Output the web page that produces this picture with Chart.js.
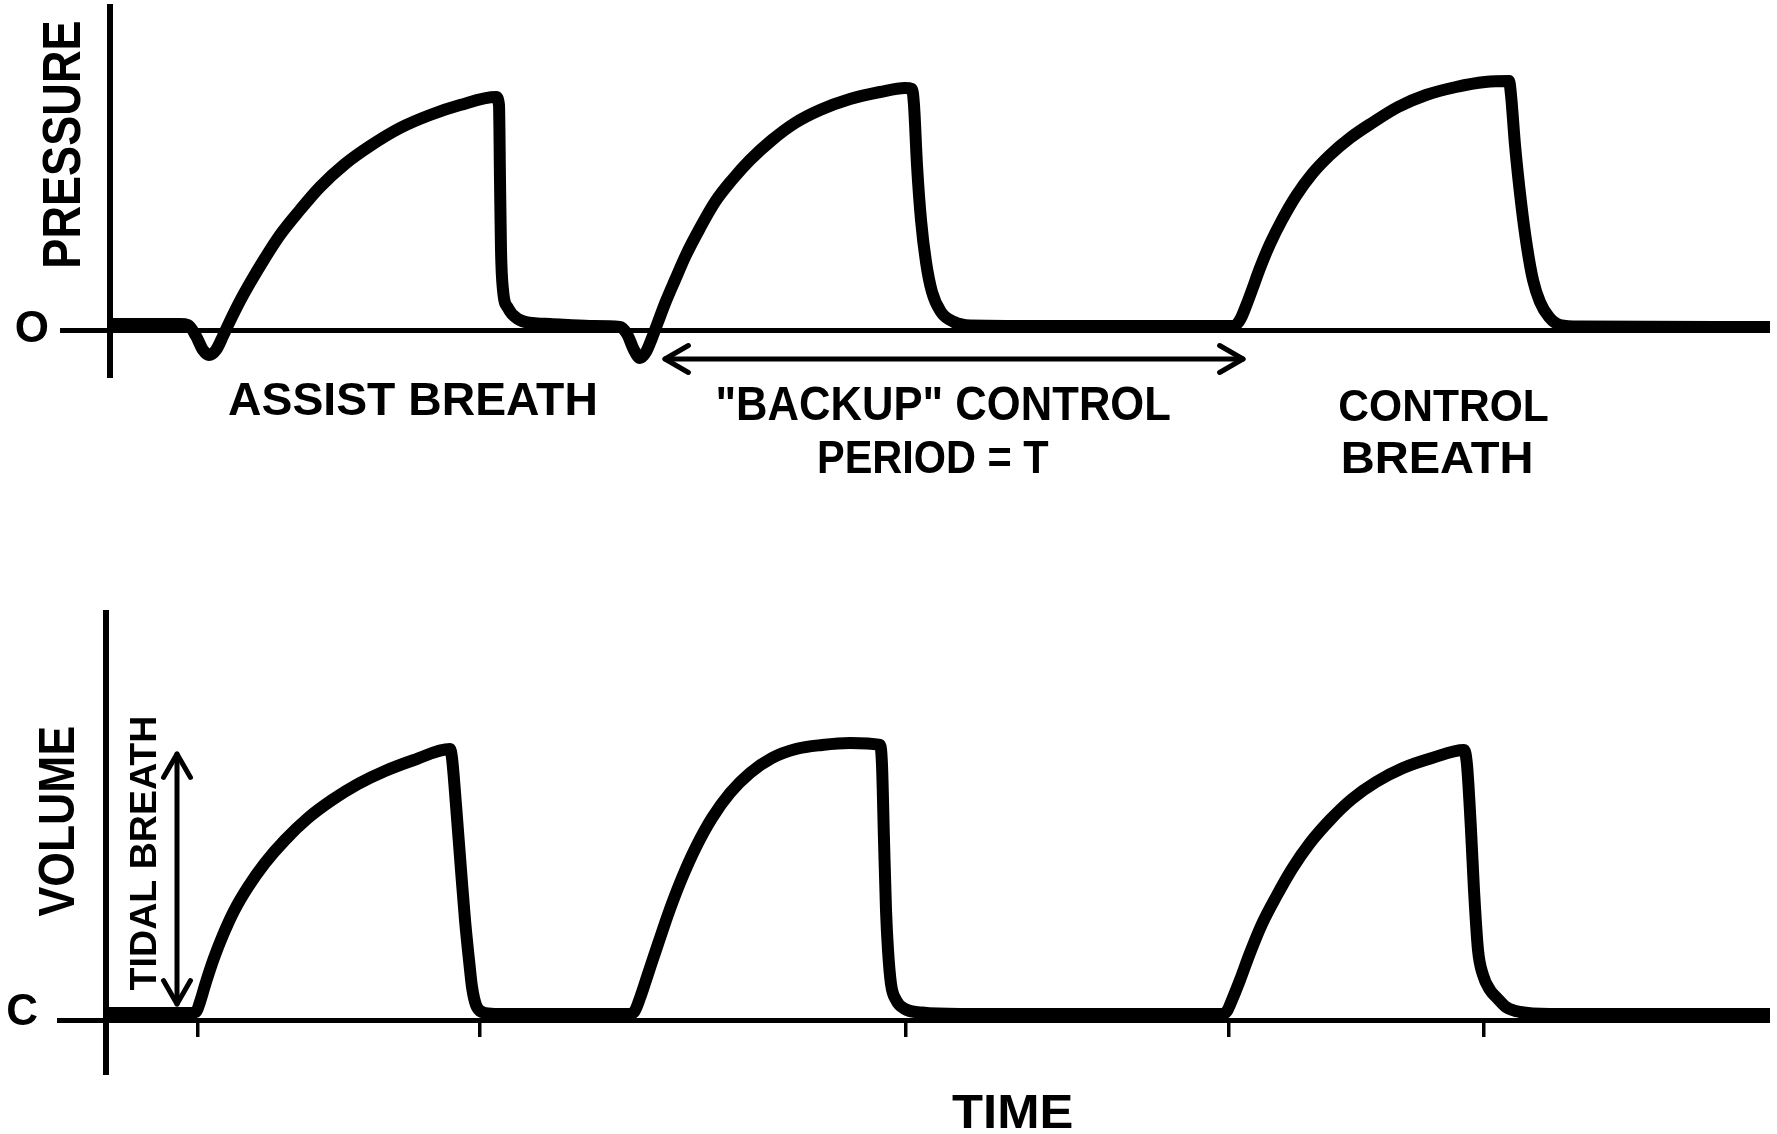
<!DOCTYPE html>
<html>
<head>
<meta charset="utf-8">
<script src="https://cdn.jsdelivr.net/npm/chart.js@4.4.1/dist/chart.umd.min.js"></script>
<style>
  html, body { margin: 0; padding: 0; background: #ffffff; }
  #wrap { position: relative; width: 1777px; height: 1134px; overflow: hidden; background: #ffffff; }
  canvas { position: absolute; left: 0; top: 0; }
</style>
</head>
<body>
<div id="wrap">
  <canvas id="pressureChart" width="1777" height="1134"></canvas>
  <canvas id="volumeChart" width="1777" height="1134"></canvas>
</div>
<script>
// ---------------- DATA (arbitrary units) ----------------
// Airway pressure trace: time and pressure
const PRESSURE_TIME = [
  0.00, 0.70, 0.78, 0.86, 0.93, 0.99, 1.06, 1.13, 1.20, 1.30,
  1.40, 1.55, 1.70, 1.90, 2.10, 2.35, 2.60, 2.90, 3.20, 3.50,
  3.86, 3.89, 3.90, 3.91, 3.93, 3.98, 4.08, 4.22, 4.40, 4.80,
  5.10, 5.17, 5.24, 5.30, 5.36, 5.42, 5.48, 5.56, 5.65, 5.76,
  5.90, 6.05, 6.22, 6.40, 6.62, 6.85, 7.10, 7.40, 7.70, 7.95,
  8.02, 8.04, 8.07, 8.11, 8.16, 8.22, 8.31, 8.44, 8.60, 9.50,
  10.50, 11.22, 11.27, 11.31, 11.36, 11.42, 11.50, 11.60, 11.72, 11.86,
  12.02, 12.20, 12.40, 12.62, 12.88, 13.16, 13.46, 13.75, 13.99, 14.01,
  14.05, 14.11, 14.17, 14.23, 14.30, 14.39, 14.50, 14.70, 16.60
];
const PRESSURE_VALUES = [
  0.6, 0.6, 0.5, -0.6, -2.0, -2.5, -2.0, -0.6, 0.9, 2.9,
  4.7, 7.2, 9.5, 12.0, 14.3, 16.6, 18.4, 20.2, 21.5, 22.5,
  23.3, 22.5, 15.0, 8.0, 4.0, 2.2, 1.1, 0.7, 0.6, 0.4,
  0.3, -0.4, -2.0, -2.8, -2.2, -0.8, 0.8, 2.9, 5.0, 7.5,
  10.2, 12.8, 15.0, 17.0, 19.0, 20.7, 22.0, 23.1, 23.8, 24.2,
  24.1, 22.5, 16.5, 11.0, 6.8, 3.8, 1.8, 0.8, 0.45, 0.4,
  0.4, 0.4, 0.6, 1.2, 2.4, 4.0, 6.2, 8.6, 11.0, 13.4,
  15.6, 17.5, 19.2, 20.7, 22.3, 23.5, 24.3, 24.8, 24.9, 23.5,
  18.5, 12.8, 8.3, 5.0, 2.8, 1.3, 0.5, 0.35, 0.3
];

// Volume trace: time and volume
const VOLUME_TIME = [
  -0.04, 0.80, 0.86, 0.90, 0.96, 1.04, 1.13, 1.24, 1.38, 1.55,
  1.75, 1.98, 2.22, 2.48, 2.75, 3.04, 3.40, 3.42, 3.46, 3.51,
  3.55, 3.59, 3.62, 3.66, 3.72, 3.85, 5.18, 5.24, 5.30, 5.38,
  5.48, 5.60, 5.72, 5.86, 6.02, 6.20, 6.40, 6.62, 6.86, 7.12,
  7.40, 7.70, 7.72, 7.74, 7.76, 7.78, 7.81, 7.86, 7.95, 8.12,
  8.50, 11.12, 11.17, 11.22, 11.30, 11.40, 11.52, 11.66, 11.82, 12.00,
  12.20, 12.42, 12.66, 12.93, 13.22, 13.54, 13.57, 13.61, 13.64, 13.68,
  13.73, 13.80, 13.87, 13.96, 14.10, 14.40, 16.60
];
const VOLUME_VALUES = [
  0.7, 0.7, 0.8, 1.8, 3.8, 6.2, 8.5, 10.9, 13.3, 15.7,
  18.0, 20.2, 22.0, 23.6, 24.9, 26.0, 27.1, 26.2, 21.5, 15.0,
  10.0, 6.0, 3.3, 1.5, 0.8, 0.6, 0.6, 0.8, 2.2, 4.6,
  7.6, 11.1, 14.2, 17.3, 20.2, 22.7, 24.7, 26.2, 27.1, 27.5,
  27.7, 27.5, 25.5, 18.0, 11.0, 7.0, 3.6, 2.0, 1.1, 0.75,
  0.6, 0.6, 0.9, 2.0, 4.0, 6.7, 9.6, 12.3, 15.1, 17.7,
  20.0, 22.1, 23.8, 25.2, 26.2, 27.0, 25.5, 19.0, 13.0, 7.0,
  4.5, 3.0, 2.2, 1.3, 0.8, 0.6, 0.6
];

// Axis ticks and their labels
const PRESSURE_TICKS = [0];
const PRESSURE_TICK_LABELS = ['O'];
const VOLUME_TICKS = [0];
const VOLUME_TICK_LABELS = ['C'];
const TIME_TICKS = [0.88, 3.70, 7.96, 11.19, 13.74];

// Axis ranges
const TIME_RANGE_P = [0, 16.6];
const TIME_RANGE_V = [-0.04, 16.6];
const PRESSURE_RANGE = [-4.5, 32.3];
const VOLUME_RANGE = [-5.2, 40.7];

// Annotation texts and arrows (anchored in data units)
const PRESSURE_TEXTS = [
  { text: 'PRESSURE', at: [-0.485, 18.6], rot: -Math.PI / 2, len: 244, cap: 37 },
  { text: 'ASSIST BREATH', at: [3.02, -6.9], rot: 0, len: 366, cap: 32 },
  { text: '"BACKUP" CONTROL', at: [8.34, -7.3], rot: 0, len: 452, cap: 33 },
  { text: 'PERIOD = T', at: [8.24, -12.7], rot: 0, len: 229, cap: 32 },
  { text: 'CONTROL', at: [13.34, -7.5], rot: 0, len: 208, cap: 31 },
  { text: 'BREATH', at: [13.27, -12.7], rot: 0, len: 187, cap: 31 }
];
const PRESSURE_ARROWS = [ { from: [5.55, -2.9], to: [11.33, -2.9] } ];
const VOLUME_TEXTS = [
  { text: 'VOLUME', at: [-0.535, 19.8], rot: -Math.PI / 2, len: 189, cap: 35 },
  { text: 'TIDAL BREATH', at: [0.325, 16.6], rot: -Math.PI / 2, len: 272, cap: 26 },
  { text: 'TIME', at: [9.02, -9.1], rot: 0, len: 119, cap: 34 }
];
const VOLUME_ARROWS = [ { from: [0.67, 1.6], to: [0.67, 26.6] } ];

// ---------------- RENDERING ----------------
const FONT = '"Liberation Sans", Arial, Helvetica, sans-serif';
const INK = '#000000';

function toPoints(ts, vs) { return ts.map((t, i) => ({ x: t, y: vs[i] })); }

function drawLabel(ctx, text, cx, cy, rot, len, cap) {
  ctx.save();
  ctx.font = 'bold 100px ' + FONT;
  ctx.textAlign = 'center';
  ctx.textBaseline = 'alphabetic';
  const m = ctx.measureText(text);
  const capH = ctx.measureText('H').actualBoundingBoxAscent || 72;
  const inkW = (m.actualBoundingBoxLeft + m.actualBoundingBoxRight) || m.width;
  const off = (m.actualBoundingBoxRight - m.actualBoundingBoxLeft) / 2;
  ctx.translate(cx, cy);
  ctx.rotate(rot);
  ctx.scale(len / inkW, cap / capH);
  ctx.fillStyle = INK;
  ctx.fillText(text, -off, capH / 2);
  ctx.restore();
}

function drawArrow(ctx, x1, y1, x2, y2) {
  const head = 27, ang = Math.PI / 6;
  ctx.save();
  ctx.strokeStyle = INK;
  ctx.lineWidth = 5;
  ctx.lineCap = 'round';
  ctx.lineJoin = 'round';
  ctx.beginPath();
  ctx.moveTo(x1, y1); ctx.lineTo(x2, y2);
  ctx.stroke();
  const heads = [[x2, y2, x1, y1], [x1, y1, x2, y2]];
  heads.forEach(([tx, ty, bx, by]) => {
    const a = Math.atan2(ty - by, tx - bx);
    ctx.beginPath();
    ctx.moveTo(tx - head * Math.cos(a - ang), ty - head * Math.sin(a - ang));
    ctx.lineTo(tx, ty);
    ctx.lineTo(tx - head * Math.cos(a + ang), ty - head * Math.sin(a + ang));
    ctx.stroke();
  });
  ctx.restore();
}

function annotationPlugin(texts, arrows) {
  return {
    id: 'diagramAnnotations',
    afterDraw(chart) {
      const ctx = chart.ctx, xs = chart.scales.x, ys = chart.scales.y;
      arrows.forEach(a => drawArrow(ctx,
        xs.getPixelForValue(a.from[0]), ys.getPixelForValue(a.from[1]),
        xs.getPixelForValue(a.to[0]), ys.getPixelForValue(a.to[1])));
      texts.forEach(t => drawLabel(ctx, t.text,
        xs.getPixelForValue(t.at[0]), ys.getPixelForValue(t.at[1]), t.rot, t.len, t.cap));
    }
  };
}

function traceDataset(points) {
  return {
    data: points,
    borderColor: INK,
    borderWidth: 12,
    pointRadius: 0,
    fill: false,
    cubicInterpolationMode: 'monotone',
    borderJoinStyle: 'round',
    borderCapStyle: 'round'
  };
}

function yAxis(range, ticks, labels, axisWidth, tickLen, pad, labelOffset) {
  return {
    type: 'linear',
    position: 'left',
    min: range[0],
    max: range[1],
    afterBuildTicks: (scale) => { scale.ticks = ticks.map(v => ({ value: v })); },
    afterFit: (scale) => { scale.width = axisWidth; scale.paddingTop = 0; scale.paddingBottom = 0; },
    border: { display: true, color: INK, width: 6 },
    grid: { display: true, color: INK, lineWidth: 5, drawOnChartArea: true, drawTicks: true, tickLength: tickLen },
    ticks: {
      color: INK,
      padding: pad,
      labelOffset: labelOffset,
      font: { family: FONT, size: 44, weight: 'bold' },
      callback: (v) => { const i = ticks.indexOf(v); return i >= 0 ? labels[i] : ''; }
    }
  };
}

const common = {
  responsive: false,
  animation: false,
  events: [],
  devicePixelRatio: 1,
  plugins: { legend: { display: false }, tooltip: { enabled: false } }
};

// Pressure chart (top)
new Chart(document.getElementById('pressureChart'), {
  type: 'line',
  data: { datasets: [traceDataset(toPoints(PRESSURE_TIME, PRESSURE_VALUES))] },
  options: Object.assign({}, common, {
    layout: { autoPadding: false, padding: { left: 0, right: 7, top: 7, bottom: 1134 - 375 } },
    scales: {
      x: { type: 'linear', min: TIME_RANGE_P[0], max: TIME_RANGE_P[1], display: false },
      y: yAxis(PRESSURE_RANGE, PRESSURE_TICKS, PRESSURE_TICK_LABELS, 110, 50, 11, 0)
    }
  }),
  plugins: [annotationPlugin(PRESSURE_TEXTS, PRESSURE_ARROWS)]
});

// Volume chart (bottom)
new Chart(document.getElementById('volumeChart'), {
  type: 'line',
  data: { datasets: [traceDataset(toPoints(VOLUME_TIME, VOLUME_VALUES))] },
  options: Object.assign({}, common, {
    layout: { autoPadding: false, padding: { left: 0, right: 7, top: 613, bottom: 1134 - 1072 } },
    scales: {
      x: {
        type: 'linear',
        min: TIME_RANGE_V[0],
        max: TIME_RANGE_V[1],
        position: { y: 0 },
        afterBuildTicks: (scale) => { scale.ticks = TIME_TICKS.map(v => ({ value: v })); },
        afterFit: (scale) => { scale.height = 0; scale.paddingLeft = 0; scale.paddingRight = 0; },
        border: { display: false },
        grid: { display: true, color: INK, lineWidth: 3.5, drawOnChartArea: false, drawTicks: true, tickLength: 17 },
        ticks: { display: false }
      },
      y: yAxis(VOLUME_RANGE, VOLUME_TICKS, VOLUME_TICK_LABELS, 106, 49, 19, -7)
    }
  }),
  plugins: [annotationPlugin(VOLUME_TEXTS, VOLUME_ARROWS)]
});
</script>
</body>
</html>
